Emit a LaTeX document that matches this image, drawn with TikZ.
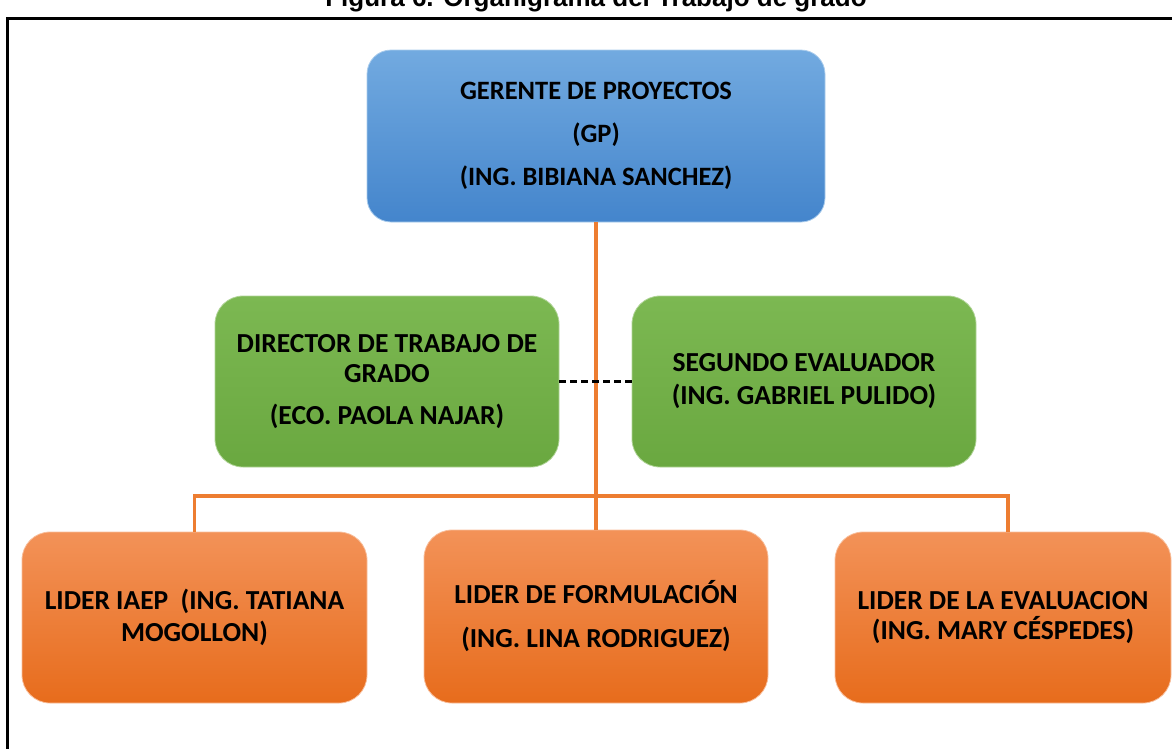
\documentclass[tikz,border=0pt]{standalone}
\usepackage{fontspec}
\setmainfont{Carlito}
\newfontfamily\arialfont{Liberation Sans}
\definecolor{blueTop}{RGB}{114,170,224}
\definecolor{blueBot}{RGB}{68,133,204}
\definecolor{greenTop}{RGB}{124,184,82}
\definecolor{greenBot}{RGB}{106,168,64}
\definecolor{orangeTop}{RGB}{243,146,88}
\definecolor{orangeBot}{RGB}{231,108,28}
\definecolor{lineOrange}{RGB}{237,125,49}
\begin{document}
\begin{tikzpicture}[x=1pt,y=-1pt,
  box/.style={rounded corners=28pt, align=center, inner sep=0pt,
    font=\bfseries\fontsize{27.5}{30}\selectfont, text=black},
  bluebox/.style={box, top color=blueTop, bottom color=blueBot, draw=blueTop!60!white, line width=0.8pt},
  greenbox/.style={box, top color=greenTop, bottom color=greenBot, draw=greenTop!60!white, line width=0.8pt},
  orangebox/.style={box, top color=orangeTop, bottom color=orangeBot, draw=orangeTop!60!white, line width=0.8pt},
  orgline/.style={draw=lineOrange, line width=3.6pt},
  peerline/.style={draw=black, line width=2.6pt, dash pattern=on 7pt off 4pt}
]
\useasboundingbox (0,0) rectangle (1172,748);
% title (partly cut off at the top)
\node[anchor=base, font=\arialfont\bfseries\fontsize{26}{30}\selectfont, inner sep=0pt] (title) at (596,6) {Figura 6. Organigrama del Trabajo de grado};
% frame
\draw[line width=3pt] (1190,18) -- (7,18) -- (7,770);

% nodes
\node[bluebox, minimum width=458pt, minimum height=172pt, rounded corners=24pt,
  font=\bfseries\fontsize{26.5}{43}\selectfont] (gp) at (596,136)
  {GERENTE DE PROYECTOS\\(GP)\\(ING. BIBIANA SANCHEZ)};
\node[greenbox, minimum width=344pt, minimum height=171pt] (dir) at (387,381.5)
  {DIRECTOR DE TRABAJO DE\\GRADO\\[12pt](ECO. PAOLA NAJAR)};
\node[greenbox, minimum width=344pt, minimum height=171pt,
  font=\bfseries\fontsize{27.5}{33}\selectfont] (seg) at (804,381.5)
  {SEGUNDO EVALUADOR\\(ING. GABRIEL PULIDO)};
\node[orangebox, minimum width=345pt, minimum height=171pt,
  font=\bfseries\fontsize{27.5}{32}\selectfont] (iaep) at (194.5,617.5)
  {LIDER IAEP\ \ (ING. TATIANA\\MOGOLLON)};
\node[orangebox, minimum width=344pt, minimum height=173pt,
  font=\bfseries\fontsize{27.5}{44}\selectfont] (form) at (596,616.5)
  {LIDER DE FORMULACIÓN\\(ING. LINA RODRIGUEZ)};
\node[orangebox, minimum width=336pt, minimum height=171pt,
  font=\bfseries\fontsize{27.5}{30}\selectfont] (eval) at (1003,617.5)
  {LIDER DE LA EVALUACION\\(ING. MARY CÉSPEDES)};

% connectors
\coordinate (bus) at (596,496);
\coordinate (evaltop) at (1008,532);
\draw[orgline] (gp.south) -- (form.north);
\draw[orgline] (iaep.north) |- (bus) -| (evaltop);
\draw[peerline] (dir.east) -- (seg.west);
\end{tikzpicture}
\end{document}
